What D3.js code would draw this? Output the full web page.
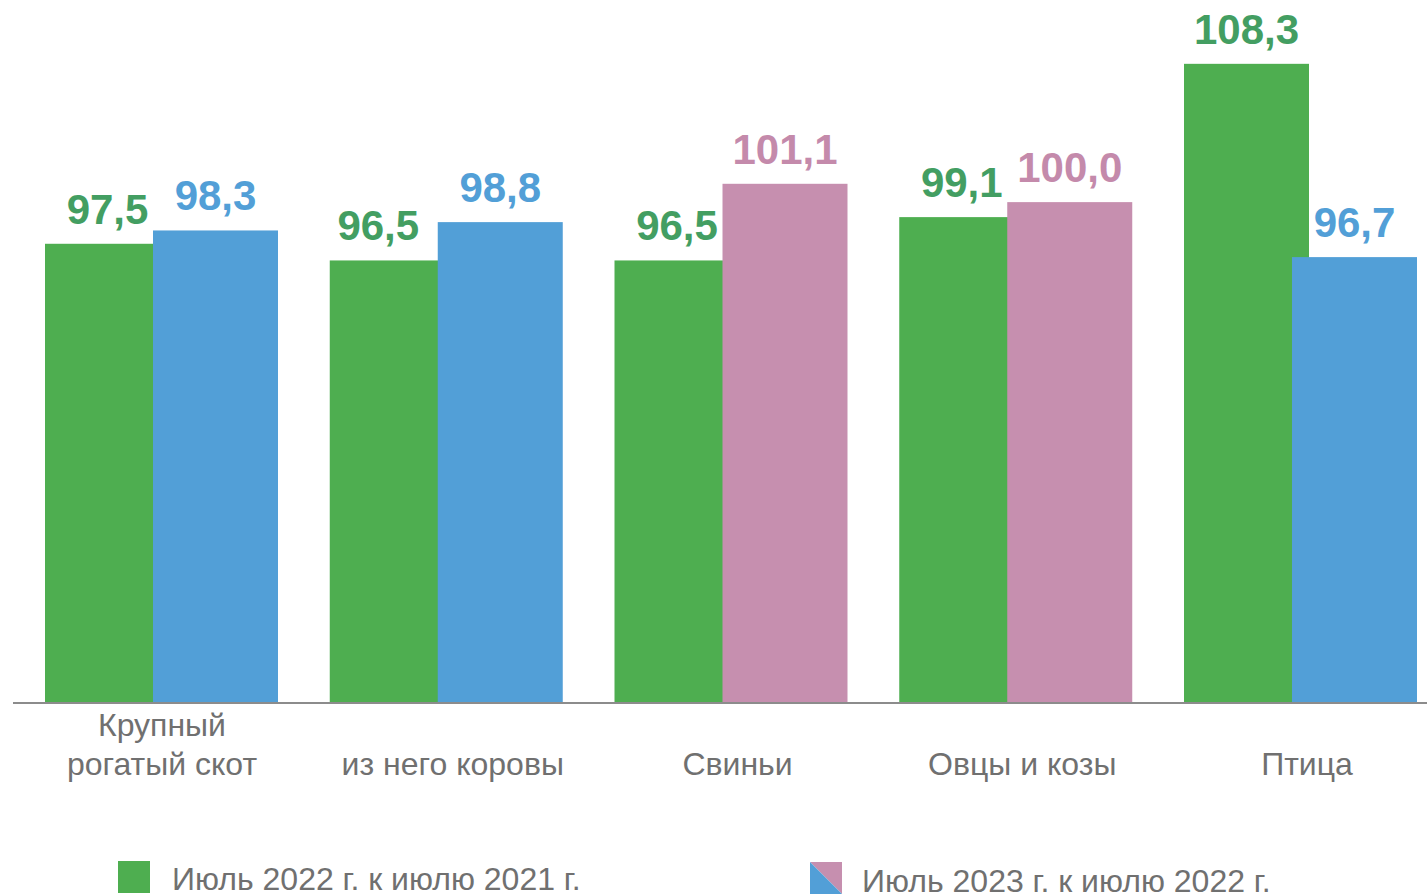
<!DOCTYPE html>
<meta charset="utf-8">
<style>
body { margin: 0; background: #fff; }
text { font-family: "Liberation Sans", Arial, sans-serif; }
</style>
<svg width="1427" height="896"></svg>
<script src="https://d3js.org/d3.v7.min.js"></script>
<script>

// categories and values
var categories = [["Крупный", "рогатый скот"], ["из него коровы"], ["Свиньи"], ["Овцы и козы"], ["Птица"]];
var july2022 = [97.5, 96.5, 96.5, 99.1, 108.3];
var july2023 = [98.3, 98.8, 101.1, 100.0, 96.7];
// second series changes colour by category
var july2023kind = ["blue", "blue", "pink", "pink", "blue"];
var legendLabels = ["Июль 2022 г. к июлю 2021 г.", "Июль 2023 г. к июлю 2022 г."];

var colors = { green: "#4eae50", blue: "#529fd7", pink: "#c68faf" };
var labelColors = { green: "#439e62", blue: "#529fd7", pink: "#c48aab" };

var svg = d3.select("svg");

var x0 = d3.scaleBand()
  .domain(d3.range(categories.length))
  .range([45, 45 + 5 * 284.75])
  .paddingInner(0);

var x1 = d3.scaleBand()
  .domain(["a", "b"])
  .range([0, 216]);

var barW = 125;

var y = d3.scaleLinear()
  .domain([70, 110])
  .range([702, 35.5]);

var fmt = function(v) { return d3.format(".1f")(v).replace(".", ","); };

var rows = categories.map(function(c, i) {
  return [
    { i: i, key: "a", value: july2022[i], kind: "green" },
    { i: i, key: "b", value: july2023[i], kind: july2023kind[i] }
  ];
});

var group = svg.append("g").selectAll("g")
  .data(rows)
  .enter().append("g")
  .attr("transform", function(d, i) { return "translate(" + x0(i) + ",0)"; });

group.selectAll("rect")
  .data(function(d) { return d; })
  .enter().append("rect")
  .attr("x", function(d) { return x1(d.key); })
  .attr("y", function(d) { return y(d.value); })
  .attr("width", barW)
  .attr("height", function(d) { return y.range()[0] - y(d.value); })
  .attr("fill", function(d) { return colors[d.kind]; });

group.selectAll("text.val")
  .data(function(d) { return d; })
  .enter().append("text")
  .attr("class", "val")
  .attr("x", function(d) { return x1(d.key) + barW / 2; })
  .attr("y", function(d) { return y(d.value) - 20; })
  // the original nudged the "из него коровы" green label a bit left
  .attr("dx", function(d) { return (d.i == 1 && d.key == "a") ? -14 : 0; })
  .attr("text-anchor", "middle")
  .style("font-size", "42px")
  .style("font-weight", "bold")
  .attr("fill", function(d) { return labelColors[d.kind]; })
  .text(function(d) { return fmt(d.value); });

// baseline
svg.append("line")
  .attr("x1", 13).attr("x2", 1427)
  .attr("y1", 703).attr("y2", 703)
  .attr("stroke", "#8c8c8c")
  .attr("stroke-width", 2);

// category labels
var cat = svg.append("g").selectAll("text")
  .data(categories)
  .enter().append("text")
  .attr("x", function(d, i) { return x0(i) + 123 - (d.length > 1 ? 6 : 0); })
  .attr("text-anchor", "middle")
  .style("font-size", "32px")
  .attr("fill", "#707070");

cat.selectAll("tspan")
  .data(function(d) { return d; })
  .enter().append("tspan")
  .attr("x", function() { return d3.select(this.parentNode).attr("x"); })
  .attr("y", function(d, j, nodes) { return 775 - (nodes.length - 1 - j) * 39; })
  .text(function(d) { return d; });

// legend
var leg = svg.append("g");
leg.append("rect")
  .attr("x", 118).attr("y", 861).attr("width", 32).attr("height", 32)
  .attr("fill", colors.green);
leg.append("text")
  .attr("x", 172).attr("y", 890)
  .style("font-size", "32px")
  .attr("fill", "#707070")
  .text(legendLabels[0]);

leg.append("path")
  .attr("d", "M810,862 L842,862 L842,894 Z")
  .attr("fill", colors.pink);
leg.append("path")
  .attr("d", "M810,862 L842,894 L810,894 Z")
  .attr("fill", colors.blue);
leg.append("text")
  .attr("x", 862).attr("y", 892)
  .style("font-size", "32px")
  .attr("fill", "#707070")
  .text(legendLabels[1]);

</script>
